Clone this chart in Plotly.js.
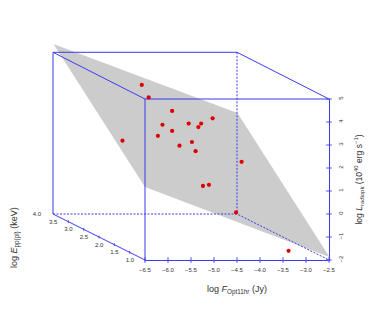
<!DOCTYPE html>
<html><head><meta charset="utf-8">
<script src="https://cdn.plot.ly/plotly-3.0.1.min.js"></script>
<style>html,body{margin:0;padding:0;background:#fff}#c{width:374px;height:324px}</style></head>
<body><div id="c"></div>
<script>
// Axis tick values
var fluxTicks = [-6.5,-6,-5.5,-5,-4.5,-4,-3.5,-3,-2.5];
var lumTicks = [-2,-1,0,1,2,3,4,5];
var energyTicks = [3.5,3,2.5,2,1.5,1];
var energyLabels = ['3.5','3.0','2.5','2.0','1.5','1.0'];
// Data points (read positions on the projected axes: flux, luminosity)
var ptF = [-6.57,-6.42,-5.91,-6.12,-5.55,-5.28,-5.34,-5.91,-6.22,-6.99,-5.75,-5.48,-5.40,-5.03,-4.40,-5.24,-5.11,-4.52,-3.38];
var ptL = [5.61,5.07,4.48,3.88,3.93,3.93,3.78,3.61,3.40,3.19,2.97,3.13,2.73,4.16,2.27,1.22,1.27,0.07,-1.60];
// Fitted plane outline and the wireframe box, same projected units
var planeF = [-8.49,-4.49,-2.49,-6.5,-8.49];
var planeL = [7.39,4.39,-1.87,1.17,7.39];
var solidF = [[-8.5,-4.5,-2.5],[-8.5,-8.5],[-8.5,-6.5],[-6.5,-6.5],[-6.5,-2.5]];
var solidL = [[7.03,7.03,5],[7.03,0],[7.03,5],[5,-2],[5,5]];
var depthF = [-8.5,-6.5];
var depthL = [0,-2];
var dashF = [[-8.5,-4.5,-2.5],[-4.5,-4.5]];
var dashL = [[0,0,-2],[7.03,0]];
// Projection of the depth axis onto the page
var depthPerUnitF = -2/3, depthPerUnitL = 2/3;

var W=374,H=324,L0=145,L1=329,T0=99,T1=260;
var sx=(L1-L0)/4, sy=(T1-T0)/7;
var blue='#3b3bf0', tickCol='#4a4af0';
var x2r=[-6.5-L0/sx, -6.5+(W-L0)/sx];
var y2r=[-2-(H-T1)/sy, -2+T1/sy];
var traces=[];
function ov(t){t.xaxis='x2';t.yaxis='y2';t.hoverinfo='skip';t.showlegend=false;traces.push(t);return t;}
// real axes carrying the tick labels
traces.push({x:[-6.5],y:[-2],mode:'markers',marker:{size:1,opacity:0},hoverinfo:'skip',showlegend:false});
ov({x:planeF,y:planeL,mode:'lines',fill:'toself',fillcolor:'#cccccc',line:{width:0,color:'#cccccc'}});
solidF.forEach(function(f,i){ov({x:f,y:solidL[i],mode:'lines',line:{color:blue,width:1}});});
ov({x:depthF,y:depthL,mode:'lines',line:{color:blue,width:1}});
dashF.forEach(function(f,i){ov({x:f,y:dashL[i],mode:'lines',line:{color:blue,width:1,dash:'2px,1.5px'}});});
// cross ticks on bottom and right axes, short ticks along the depth axis
ov({x:fluxTicks,y:fluxTicks.map(function(){return -2}),mode:'markers',marker:{symbol:'line-ns',size:4,line:{color:tickCol,width:1}}});
ov({x:lumTicks.map(function(){return -2.5}),y:lumTicks,mode:'markers',marker:{symbol:'line-ew',size:4,line:{color:tickCol,width:1}}});
ov({x:energyTicks.map(function(e){return -6.5+(e-1)*depthPerUnitF}),y:energyTicks.map(function(e){return -2+(e-1)*depthPerUnitL}),mode:'markers',marker:{symbol:'line-ns',size:2,line:{color:tickCol,width:1}}});
// depth axis labels
ov({x:[-8.85].concat(energyTicks.map(function(e){return -6.5+(e-1)*depthPerUnitF-0.33})),
    y:[0].concat(energyTicks.map(function(e){return -2+(e-1)*depthPerUnitL-0.02})),
    mode:'text',text:['4.0'].concat(energyLabels),textfont:{family:'Liberation Sans',size:6,color:'#333'},textposition:'middle center'});
ov({x:ptF,y:ptL,mode:'markers',marker:{color:'#dd0000',size:4.2}});

var layout={width:W,height:H,margin:{l:0,r:0,t:0,b:0},paper_bgcolor:'#fff',plot_bgcolor:'rgba(0,0,0,0)',showlegend:false,
 font:{family:'Liberation Sans',color:'#333'},
 xaxis:{domain:[L0/W,L1/W],range:[-6.5,-2.5],anchor:'y',tickvals:fluxTicks,ticktext:fluxTicks.map(function(v){return (v<0?'\u2212':'')+Math.abs(v).toFixed(1)}),
   showgrid:false,zeroline:false,showline:true,linecolor:blue,linewidth:1.2,ticks:'outside',ticklen:4,tickcolor:'rgba(0,0,0,0)',tickfont:{size:6,color:'#333'},tickangle:0,
   title:{text:'log <i>F</i><sub>Opt11hr</sub> (Jy)',font:{size:9,color:'#333'},standoff:13}},
 yaxis:{domain:[1-T1/H,1-T0/H],range:[-2,5],anchor:'x',side:'right',tickvals:lumTicks,ticktext:lumTicks.map(function(v){return (v<0?'\u2212':'')+Math.abs(v)}),
   showgrid:false,zeroline:false,showline:true,linecolor:blue,linewidth:1.2,ticks:'outside',ticklen:6,tickcolor:'rgba(0,0,0,0)',tickfont:{size:6,color:'#333'},tickangle:-90,
   title:{text:'log <i>L</i><sub>radiopk</sub> (10<sup>40</sup> erg s<sup>\u22121</sup>)',font:{size:8.5,color:'#333'},standoff:12}},
 xaxis2:{domain:[0,1],range:x2r,visible:false,fixedrange:true,anchor:'y2'},
 yaxis2:{domain:[0,1],range:y2r,visible:false,fixedrange:true,anchor:'x2'},
 annotations:[{xref:'paper',yref:'paper',x:15/W,y:1-238/H,xanchor:'center',yanchor:'middle',text:'log <i>E</i><sub>pp(pl)</sub> (keV)',showarrow:false,textangle:-90,font:{size:9,color:'#333'}}]
};
Plotly.newPlot('c',traces,layout,{displayModeBar:false,staticPlot:true});
</script></body></html>
